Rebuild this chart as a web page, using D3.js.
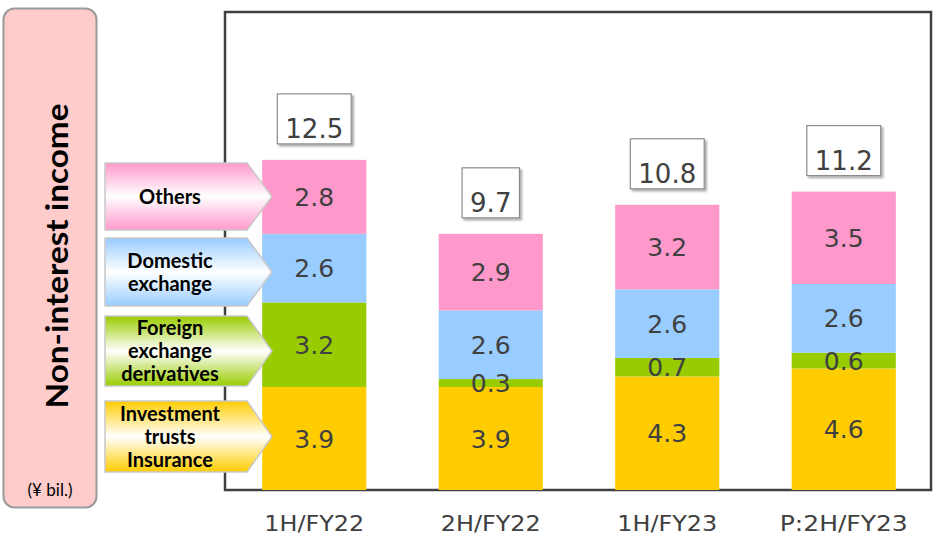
<!DOCTYPE html>
<html>
<head>
<meta charset="utf-8">
<script src="https://cdn.jsdelivr.net/npm/d3@7"></script>
<style>
  html, body { margin: 0; padding: 0; background: #fff; }
  svg { display: block; }
</style>
</head>
<body>
<svg id="chart" width="935" height="538"></svg>
<script>
// Half-year periods
const categories = ["1H/FY22", "2H/FY22", "1H/FY23", "P:2H/FY23"];
// Income components, ¥ bil.
const investmentTrusts = [3.9, 3.9, 4.3, 4.6];
const fxDerivatives   = [3.2, 0.3, 0.7, 0.6];
const domesticFx      = [2.6, 2.6, 2.6, 2.6];
const others          = [2.8, 2.9, 3.2, 3.5];
const totals          = [12.5, 9.7, 10.8, 11.2];

const seriesNames  = ["Investment trusts Insurance", "Foreign exchange derivatives", "Domestic exchange", "Others"];
const seriesLines  = [["Investment", "trusts", "Insurance"], ["Foreign", "exchange", "derivatives"], ["Domestic", "exchange"], ["Others"]];
const seriesColors = ["#FFCC00", "#99CC00", "#99CCFF", "#FF99CC"];

const rows = categories.map((c, i) => ({
  cat: c,
  "Investment trusts Insurance": investmentTrusts[i],
  "Foreign exchange derivatives": fxDerivatives[i],
  "Domestic exchange": domesticFx[i],
  "Others": others[i],
  total: totals[i]
}));

const svg = d3.select("#chart");
const numFont = "'DejaVu Sans', Verdana, sans-serif";
const lblFont = "Lato, 'Open Sans', sans-serif";

const frame = { left: 225, right: 931, top: 12, bottom: 490 };

const x = d3.scaleBand().domain(categories).range([226, 932])
  .paddingInner(0.41).paddingOuter(0.205);
const y = d3.scaleLinear().domain([0, 18.1]).range([frame.bottom, frame.top]);

const defs = svg.append("defs");
const sh = defs.append("filter").attr("id", "shadow").attr("x", "-20%").attr("y", "-20%").attr("width", "150%").attr("height", "150%");
sh.append("feDropShadow").attr("dx", 2).attr("dy", 2).attr("stdDeviation", 1.2)
  .attr("flood-color", "#000").attr("flood-opacity", 0.35);

// Left title panel
svg.append("rect").attr("x", 3.5).attr("y", 8.5).attr("width", 93).attr("height", 499)
  .attr("rx", 11).attr("fill", "#FFCCCC").attr("stroke", "#9a9a9a").attr("stroke-width", 2);
svg.append("text")
  .attr("transform", "translate(68,256) rotate(-90)")
  .attr("text-anchor", "middle")
  .attr("font-family", lblFont).attr("font-weight", 700).attr("font-size", 31)
  .attr("textLength", 305).attr("lengthAdjust", "spacingAndGlyphs")
  .attr("fill", "#000").text("Non-interest income");
svg.append("text").attr("x", 50).attr("y", 496).attr("text-anchor", "middle")
  .attr("font-family", lblFont).attr("font-size", 17).attr("fill", "#000").text("(¥ bil.)");

// Plot frame
svg.append("rect").attr("x", frame.left).attr("y", frame.top)
  .attr("width", frame.right - frame.left).attr("height", frame.bottom - frame.top)
  .attr("fill", "none").attr("stroke", "#404040").attr("stroke-width", 2.5);

// Stacked bars
const stack = d3.stack().keys(seriesNames)(rows);
const layers = svg.append("g").selectAll("g").data(stack).join("g")
  .attr("fill", (d, i) => seriesColors[i]);
layers.selectAll("rect").data(d => d).join("rect")
  .attr("x", d => x(d.data.cat))
  .attr("width", x.bandwidth())
  .attr("y", d => y(d[1]))
  .attr("height", d => y(d[0]) - y(d[1]));

// Segment value labels
const segLabels = svg.append("g");
stack.forEach(layer => {
  segLabels.selectAll(null).data(layer).join("text")
    .attr("x", d => x(d.data.cat) + x.bandwidth() / 2)
    .attr("y", d => (y(d[0]) + y(d[1])) / 2)
    .attr("dy", "0.36em")
    .attr("text-anchor", "middle")
    .attr("font-family", numFont).attr("font-size", 25).attr("fill", "#404040")
    .text(d => (d[1] - d[0]).toFixed(1));
});

// Total boxes above bars
const totalG = svg.append("g").selectAll("g").data(rows).join("g")
  .attr("transform", d => `translate(${x(d.cat) + x.bandwidth() / 2},${y(d3.sum(seriesNames, k => d[k])) - 15})`);
totalG.each(function(d) {
  const g = d3.select(this);
  const t = g.append("text").attr("text-anchor", "middle").attr("y", -16).attr("dy", "0.36em")
    .attr("font-family", numFont).attr("font-size", 26).attr("fill", "#404040")
    .text(d.total.toFixed(1));
  const w = t.node().getComputedTextLength() + 16;
  g.insert("rect", "text").attr("x", -w / 2).attr("y", -51).attr("width", w).attr("height", 50)
    .attr("fill", "#fff").attr("stroke", "#8c8c8c").attr("stroke-width", 1.2)
    .attr("filter", "url(#shadow)");
});

// Category axis
const axis = svg.append("g").attr("transform", `translate(0,${frame.bottom + 25})`)
  .call(d3.axisBottom(x).tickSize(0).tickPadding(0));
axis.select(".domain").remove();
axis.selectAll("text").attr("font-family", numFont).attr("font-size", 22).attr("fill", "#404040")
  .attr("dy", "0.71em").attr("textLength", 100).attr("lengthAdjust", "spacingAndGlyphs");
axis.selectAll("text").filter(d => d === "P:2H/FY23").attr("textLength", 128);

// Legend arrows pointing at the first bar
const arrowBoxes = [
  { top: 401, bottom: 472 },
  { top: 316, bottom: 386 },
  { top: 238, bottom: 306 },
  { top: 163, bottom: 230 }
];
const arrowLeft = 105, arrowBodyRight = 247, arrowTip = 272;
seriesNames.forEach((name, i) => {
  const gid = "grad" + i;
  const gr = defs.append("linearGradient").attr("id", gid).attr("x1", 0).attr("y1", 0).attr("x2", 0).attr("y2", 1);
  gr.append("stop").attr("offset", "0%").attr("stop-color", seriesColors[i]);
  gr.append("stop").attr("offset", "50%").attr("stop-color", "#ffffff");
  gr.append("stop").attr("offset", "100%").attr("stop-color", seriesColors[i]);
  const b = arrowBoxes[i];
  const mid = (b.top + b.bottom) / 2;
  const pts = [[arrowLeft, b.top], [arrowBodyRight, b.top], [arrowTip, mid], [arrowBodyRight, b.bottom], [arrowLeft, b.bottom]];
  svg.append("path").attr("d", d3.line()(pts) + "Z")
    .attr("fill", `url(#${gid})`).attr("stroke", "#c8c8c8").attr("stroke-width", 1.5);
  const lines = seriesLines[i];
  const lh = 23;
  const t = svg.append("text").attr("text-anchor", "middle")
    .attr("font-family", lblFont).attr("font-weight", 700).attr("font-size", 20).attr("fill", "#000");
  lines.forEach((ln, j) => {
    t.append("tspan").attr("x", 170)
      .attr("y", mid + (j - (lines.length - 1) / 2) * lh)
      .attr("dy", "0.36em").text(ln);
  });
});
</script>
</body>
</html>
